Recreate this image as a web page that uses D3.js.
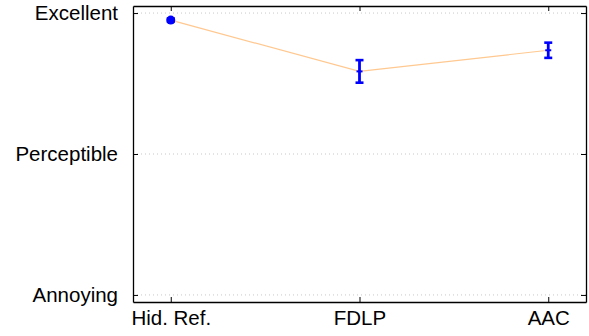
<!DOCTYPE html>
<html>
<head>
<meta charset="utf-8">
<script src="https://cdn.jsdelivr.net/npm/d3@7"></script>
<style>
  body { margin: 0; background: #fff; }
  svg { font-family: "Liberation Sans", Arial, sans-serif; }
</style>
</head>
<body>
<svg id="chart"></svg>
<script>
// data
const systems = ["Hid. Ref.", "FDLP", "AAC"];
const means = [97.5, 79.3, 86.8];
const errs = [0.6, 4.0, 2.7];
const yTickVals = [0, 50, 100];
const yTickLabels = ["Annoying", "Perceptible", "Excellent"];

const W = 589, H = 336;
const margin = { top: 6, right: 3, bottom: 34, left: 133 };
const width = W - margin.left - margin.right,
      height = H - margin.top - margin.bottom;

const svg = d3.select("#chart").attr("width", W).attr("height", H);
const g = svg.append("g").attr("transform", `translate(${margin.left},${margin.top})`);

// x is an index scale so the points sit at matlab-like positions
const x = d3.scaleLinear().domain([0.8, 3.2]).range([0, width]);
const y = d3.scaleLinear().domain([-2.5, 102.5]).range([height, 0]);

// dotted grid
g.selectAll(".grid").data(yTickVals).enter().append("line")
  .attr("x1", 0).attr("x2", width)
  .attr("y1", d => y(d)).attr("y2", d => y(d))
  .attr("stroke", "#c8c8c8").attr("stroke-width", 1)
  .attr("stroke-dasharray", "1,3");

// line through means
const line = d3.line().x((d, i) => x(i + 1)).y(d => y(d));
g.append("path").datum(means)
  .attr("d", line).attr("fill", "none")
  .attr("stroke", "#ffc890").attr("stroke-width", 1.2);

// error bars
const eb = g.selectAll(".eb").data(means).enter().append("g");
eb.append("line")
  .attr("x1", (d, i) => x(i + 1)).attr("x2", (d, i) => x(i + 1))
  .attr("y1", (d, i) => y(d - errs[i])).attr("y2", (d, i) => y(d + errs[i]))
  .attr("stroke", "#0000ff").attr("stroke-width", 2.8);
[-1, 1].forEach(s => {
  eb.append("line")
    .attr("x1", (d, i) => x(i + 1) - 4).attr("x2", (d, i) => x(i + 1) + 4)
    .attr("y1", (d, i) => y(d + s * errs[i])).attr("y2", (d, i) => y(d + s * errs[i]))
    .attr("stroke", "#0000ff").attr("stroke-width", 2.6);
});
eb.filter((d, i) => i > 0).append("line")
  .attr("x1", (d, i) => x(i + 2) - 3).attr("x2", (d, i) => x(i + 2) + 3)
  .attr("y1", d => y(d)).attr("y2", d => y(d))
  .attr("stroke", "#0000ff").attr("stroke-width", 2);
eb.filter((d, i) => i === 0).append("circle")
  .attr("cx", x(1)).attr("cy", d => y(d)).attr("r", 4.5)
  .attr("fill", "#0000ff");

// axes box with inward ticks on all sides
const axL = d3.axisLeft(y).tickValues(yTickVals).tickFormat((d, i) => yTickLabels[i])
  .tickSizeInner(-5).tickSizeOuter(0).tickPadding(15);
const axR = d3.axisRight(y).tickValues(yTickVals).tickFormat("").tickSizeInner(-5).tickSizeOuter(0);
const axB = d3.axisBottom(x).tickValues([1, 2, 3]).tickFormat((d, i) => systems[i])
  .tickSizeInner(-5).tickSizeOuter(0).tickPadding(8);
const axT = d3.axisTop(x).tickValues([1, 2, 3]).tickFormat("").tickSizeInner(-5).tickSizeOuter(0);

g.append("g").call(axL);
g.append("g").attr("transform", `translate(${width},0)`).call(axR);
g.append("g").attr("transform", `translate(0,${height})`).call(axB);
g.append("g").call(axT);

g.selectAll(".domain").attr("stroke", "#000").attr("stroke-width", 1.3);
g.selectAll(".tick line").attr("stroke", "#000");
g.selectAll(".tick text").attr("font-size", 20.5).attr("fill", "#000")
  .attr("font-family", "Liberation Sans, Arial, sans-serif");
</script>
</body>
</html>
